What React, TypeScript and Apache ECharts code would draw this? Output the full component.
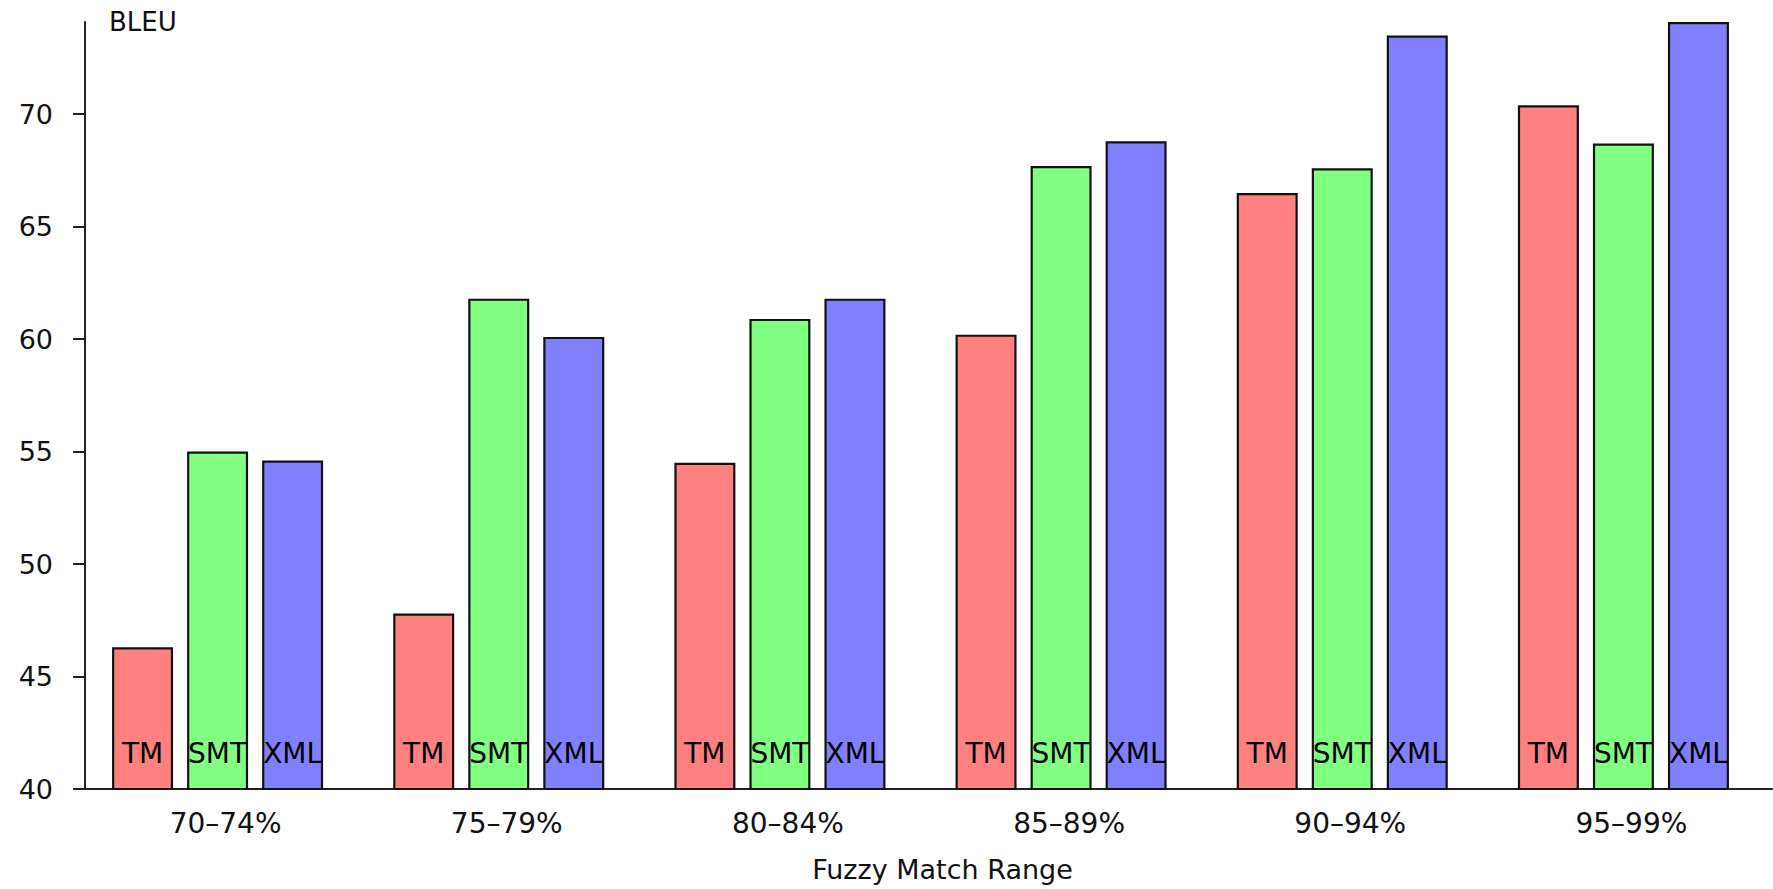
import React, { useEffect, useRef } from "react";
import * as echarts from "echarts";

const categories = ["70–74%", "75–79%", "80–84%", "85–89%", "90–94%", "95–99%"];
const seriesNames = ["TM", "SMT", "XML"];
const tmValues = [46.3, 47.8, 54.5, 60.2, 66.5, 70.4];
const smtValues = [55.0, 61.8, 60.9, 67.7, 67.6, 68.7];
const xmlValues = [54.6, 60.1, 61.8, 68.8, 73.5, 74.1];
const yTicks = [40, 45, 50, 55, 60, 65, 70];
const yMin = 40;
const yMax = 74.1;
const colors = ["#FF8080", "#80FF80", "#8080FF"];

const FONT = "DejaVu Sans";

export default function App() {
  const ref = useRef<HTMLDivElement>(null);
  useEffect(() => {
    if (!ref.current) return;
    const chart = echarts.init(ref.current, null, { renderer: "svg" });
    const values = [tmValues, smtValues, xmlValues];
    const axisColor = "#222";
    chart.setOption({
      animation: false,
      backgroundColor: "#fff",
      grid: [
        { left: 85, right: 1, top: 22, bottom: 100 },
        { left: 77, right: 9, top: 22, bottom: 100 },
      ],
      xAxis: [
        {
          type: "category",
          gridIndex: 0,
          data: categories,
          axisLine: { lineStyle: { color: axisColor, width: 2 } },
          axisTick: { show: false },
          axisLabel: { color: "#111", fontFamily: FONT, fontSize: 28, margin: 20 },
          name: "Fuzzy Match Range",
          nameLocation: "middle",
          nameGap: 67,
          nameTextStyle: { color: "#111", fontFamily: FONT, fontSize: 27, padding: [0, 0, 0, 28] },
        },
        {
          type: "category",
          gridIndex: 1,
          data: categories,
          show: false,
        },
      ],
      yAxis: [
        {
          type: "value",
          gridIndex: 0,
          min: yMin,
          max: yMax,
          interval: 5,
          splitLine: { show: false },
          axisLine: { show: true, lineStyle: { color: axisColor, width: 2 } },
          axisTick: { show: true, length: 12, lineStyle: { color: axisColor, width: 2 }, customValues: yTicks },
          axisLabel: { color: "#111", fontFamily: FONT, fontSize: 27, margin: 32, customValues: yTicks },
          name: "BLEU",
          nameLocation: "end",
          nameGap: 0,
          nameTextStyle: {
            color: "#111",
            fontFamily: FONT,
            fontSize: 26,
            align: "left",
            verticalAlign: "middle",
            padding: [0, 0, 0, 24],
          },
        },
        {
          type: "value",
          gridIndex: 1,
          min: yMin,
          max: yMax,
          show: false,
          splitLine: { show: false },
        },
      ],
      series: seriesNames.map((name, i) => ({
        name,
        type: "bar",
        xAxisIndex: 1,
        yAxisIndex: 1,
        data: values[i],
        barWidth: 61,
        barGap: "23%",
        itemStyle: { color: colors[i], borderColor: "#111", borderWidth: 2.2 },
        label: {
          show: true,
          position: "insideBottom",
          distance: 23,
          formatter: () => name,
          color: "#000",
          fontFamily: FONT,
          fontSize: 28,
        },
      })),
    });
    return () => chart.dispose();
  }, []);
  return (
    <div
      ref={ref}
      style={{ position: "fixed", left: 0, top: 0, width: "1773px", height: "889px" }}
    />
  );
}
